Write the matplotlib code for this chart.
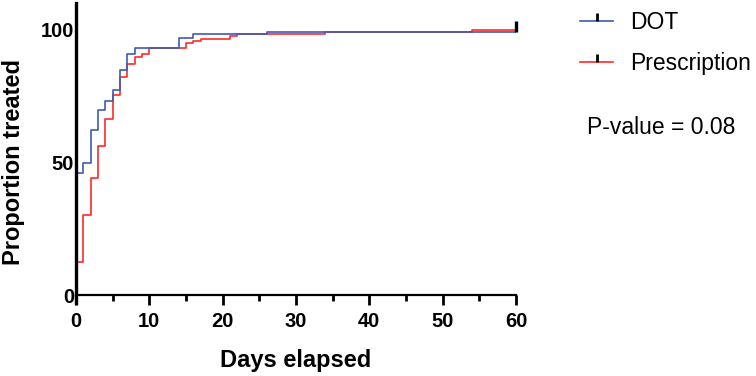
import matplotlib.pyplot as plt
from matplotlib.lines import Line2D
from matplotlib.ticker import MultipleLocator

plt.rcParams['font.family'] = ['Liberation Sans', 'DejaVu Sans']

# Kaplan-Meier style step curves (proportion treated, %)
dot_days = [0, 0, 1, 2, 3, 4, 5, 6, 7, 8, 14, 16, 26, 60]
dot_vals = [0, 46.1, 49.6, 62.1, 69.7, 73.2, 77.3, 84.6, 90.9, 93.2, 97.0, 98.2, 99.2, 99.2]

rx_days = [0, 0, 1, 2, 3, 4, 5, 6, 7, 8, 9, 10, 15, 16, 17, 21, 22, 34, 54, 60]
rx_vals = [0, 12.4, 30.1, 44.2, 56.2, 66.3, 75.5, 82.1, 87.1, 89.6, 90.7, 93.2,
           94.9, 95.7, 96.5, 97.5, 98.3, 98.9, 100, 100]

x_ticks = [0, 10, 20, 30, 40, 50, 60]
y_ticks = [0, 50, 100]

blue = '#3d5bb5'
red = '#ff2a2a'

fig = plt.figure(figsize=(7.56, 3.76), dpi=100)
ax = fig.add_axes([0.1005, 0.2154, 0.582, 0.7766])

ax.step(rx_days, rx_vals, where='post', color=red, lw=1.2)
ax.step(dot_days, dot_vals, where='post', color=blue, lw=1.2)
# censored mark at end of follow-up
ax.plot([dot_days[-1]], [dot_vals[-1]], marker=2, color='black',
        markersize=8, markeredgewidth=2.4, clip_on=False)

ax.set_xlim(0, 60)
ax.set_ylim(0, 110)
ax.set_xticks(x_ticks)
ax.set_yticks(y_ticks)
ax.xaxis.set_minor_locator(MultipleLocator(5))

for s in ['top', 'right']:
    ax.spines[s].set_visible(False)
ax.spines['left'].set_linewidth(2.4)
ax.spines['bottom'].set_linewidth(1.6)
ax.spines['left'].set_bounds(-3, 110)

ax.tick_params(axis='x', which='major', length=7, width=2, direction='out', pad=5,
               labelsize=14.5)
ax.tick_params(axis='x', which='minor', length=4.5, width=2, direction='out')
ax.tick_params(axis='y', length=0, pad=1.5, labelsize=14.5)
for lab in ax.get_xticklabels() + ax.get_yticklabels():
    lab.set_fontweight('bold')

ax.set_xlabel('Days elapsed', fontsize=17, fontweight='bold', labelpad=13)
ax.set_ylabel('Proportion treated', fontsize=17, fontweight='bold')
ax.yaxis.set_label_coords(-0.116, 50 / 110)

handles = [
    Line2D([], [], color=blue, lw=1.2, marker=2, markeredgecolor='black',
           markersize=6, markeredgewidth=2),
    Line2D([], [], color=red, lw=1.2, marker=2, markeredgecolor='black',
           markersize=6, markeredgewidth=2),
]
fig.legend(handles, ['DOT', 'Prescription'], loc='upper left',
           bbox_to_anchor=(0.740, 1.026), frameon=False, fontsize=16.5,
           handlelength=1.45, handletextpad=0.75, labelspacing=0.8, numpoints=1)

fig.text(0.7765, 0.662, 'P-value = 0.08', fontsize=16.5, va='center', ha='left')

fig.savefig('out.png', dpi=100)
